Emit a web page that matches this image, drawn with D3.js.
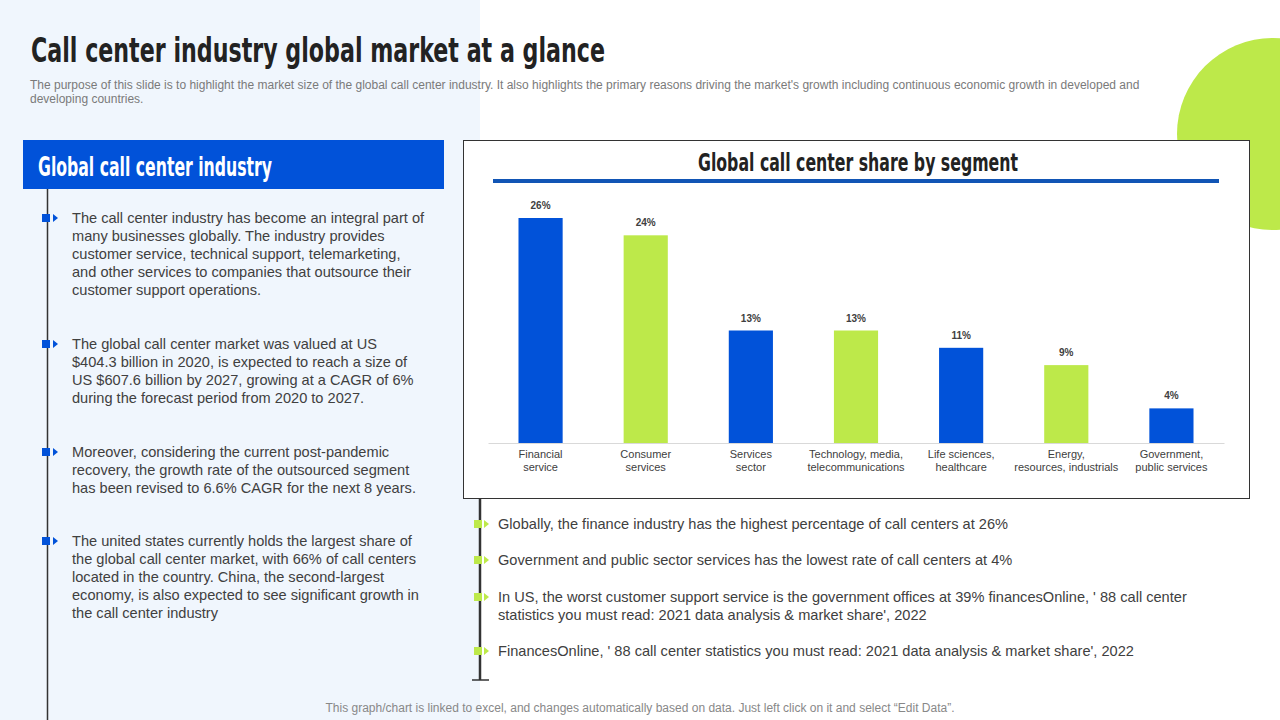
<!DOCTYPE html>
<html>
<head>
<meta charset="utf-8">
<script src="https://cdn.jsdelivr.net/npm/d3@7"></script>
<style>
  body { margin: 0; background: #fff; }
  svg { display: block; }
</style>
</head>
<body>
<div id="slide"></div>
<script>
// chart data
const segments = [
  ["Financial", "service"],
  ["Consumer", "services"],
  ["Services", "sector"],
  ["Technology, media,", "telecommunications"],
  ["Life sciences,", "healthcare"],
  ["Energy,", "resources, industrials"],
  ["Government,", "public services"]
];
const shares = [26, 24, 13, 13, 11, 9, 4];

// slide texts
const titleText = "Call center industry global market at a glance";
const subtitleLines = [
  "The purpose of this slide is to highlight the market size of the global call center industry. It also highlights the primary reasons driving the market's growth including continuous economic growth in developed and",
  "developing countries."
];
const leftHeader = "Global call center industry";
const leftParas = [
  ["The call center industry has become an integral part of", "many businesses globally.  The industry provides", "customer service, technical support, telemarketing,", "and other services to companies that outsource their", "customer support operations."],
  ["The global  call center market was valued  at US", "$404.3 billion  in 2020,  is expected to reach a size of", "US $607.6 billion  by 2027, growing at a CAGR of 6%", "during the forecast period from 2020 to 2027."],
  ["Moreover,  considering the current post-pandemic", "recovery, the growth rate of the outsourced segment", "has been revised to 6.6% CAGR for the next 8 years."],
  ["The united states currently holds the largest share of", "the global  call center market, with 66% of call centers", "located in the country. China, the second-largest", "economy, is also expected to see significant growth in", "the call center industry"]
];
const chartTitle = "Global call center share by segment";
const notes = [
  ["Globally,  the finance industry has the highest percentage of call centers at 26%"],
  ["Government and public sector services has the lowest rate of call centers at 4%"],
  ["In US, the worst customer support service is the government offices at 39% financesOnline, ' 88 call center", "statistics you must read: 2021 data analysis & market share', 2022"],
  ["FinancesOnline, ' 88 call center statistics you must read: 2021 data analysis & market share', 2022"]
];
const footer = "This graph/chart is linked to excel,  and changes automatically based on data. Just left click on it and select \u201CEdit Data\u201D.";

const BLUE = "#0152d9", GREEN = "#bde94a", TEXT = "#404040";
const COND = "'DejaVu Sans Condensed', 'DejaVu Sans', sans-serif";
const BODY = "'Liberation Sans', Arial, sans-serif";

const svg = d3.select("#slide").append("svg")
  .attr("width", 1280).attr("height", 720);

// backgrounds
svg.append("rect").attr("width", 1280).attr("height", 720).attr("fill", "#fff");
svg.append("rect").attr("width", 480).attr("height", 720).attr("fill", "#f0f6fd");
svg.append("circle").attr("cx", 1273).attr("cy", 134).attr("r", 96).attr("fill", GREEN);

// fit condensed headline text to a width
function fitText(sel, w) {
  sel.attr("textLength", w).attr("lengthAdjust", "spacingAndGlyphs");
}

// title
svg.append("text").attr("x", 31).attr("y", 62)
  .attr("font-family", COND).attr("font-weight", "bold").attr("font-size", 34)
  .attr("fill", "#222").text(titleText).call(fitText, 574);

svg.selectAll(".sub").data(subtitleLines).enter().append("text")
  .attr("x", 30).attr("y", (d, i) => 89 + i * 14)
  .attr("font-family", BODY).attr("font-size", 12).attr("fill", "#7a7a7a")
  .text(d => d);

// left panel
svg.append("rect").attr("x", 23).attr("y", 140).attr("width", 421).attr("height", 49).attr("fill", BLUE);
svg.append("text").attr("x", 38).attr("y", 176)
  .attr("font-family", COND).attr("font-weight", "bold").attr("font-size", 26)
  .attr("fill", "#fff").text(leftHeader).call(fitText, 234);

svg.append("line").attr("x1", 47.5).attr("x2", 47.5).attr("y1", 189).attr("y2", 720)
  .attr("stroke", "#333").attr("stroke-width", 1.5);

const paraTops = [218, 344, 452, 541];
leftParas.forEach((lines, p) => {
  const y0 = paraTops[p];
  svg.append("rect").attr("x", 42).attr("y", y0 - 4).attr("width", 8).attr("height", 8).attr("fill", BLUE);
  svg.append("path").attr("d", `M53,${y0 - 4}L58,${y0}L53,${y0 + 4}Z`).attr("fill", BLUE);
  svg.selectAll(null).data(lines).enter().append("text")
    .attr("x", 72).attr("y", (d, i) => y0 + 5 + i * 18)
    .attr("font-family", BODY).attr("font-size", 14.6).attr("fill", TEXT)
    .text(d => d);
});

// chart box
svg.append("rect").attr("x", 463.5).attr("y", 140.5).attr("width", 786).attr("height", 358)
  .attr("fill", "#fff").attr("stroke", "#333").attr("stroke-width", 1);
svg.append("text").attr("x", 858).attr("y", 171).attr("text-anchor", "middle")
  .attr("font-family", COND).attr("font-weight", "bold").attr("font-size", 24)
  .attr("fill", "#222").text(chartTitle).call(fitText, 320);
svg.append("rect").attr("x", 493).attr("y", 179).attr("width", 726).attr("height", 4).attr("fill", "#1155b5");

const x = d3.scaleBand().domain(d3.range(segments.length)).range([488, 1224]).paddingInner(0.58).paddingOuter(0.29);
const y = d3.scaleLinear().domain([0, 26]).range([443, 218]);

const plot = svg.append("g");
plot.selectAll(".bar").data(shares).enter().append("rect")
  .attr("x", (d, i) => x(i)).attr("width", x.bandwidth())
  .attr("y", d => y(d)).attr("height", d => y(0) - y(d))
  .attr("fill", (d, i) => i % 2 === 0 ? BLUE : GREEN);

plot.selectAll(".lbl").data(shares).enter().append("text")
  .attr("x", (d, i) => x(i) + x.bandwidth() / 2).attr("y", d => y(d) - 9)
  .attr("text-anchor", "middle").attr("font-family", BODY).attr("font-weight", "bold")
  .attr("font-size", 10).attr("fill", TEXT).text(d => d + "%");

const xAxis = plot.append("g").attr("transform", "translate(0,443)")
  .call(d3.axisBottom(x).tickSize(0).tickFormat(""));
xAxis.select(".domain").attr("stroke", "#d9d9d9");

segments.forEach((lines, i) => {
  plot.selectAll(null).data(lines).enter().append("text")
    .attr("x", x(i) + x.bandwidth() / 2).attr("y", (d, k) => 458 + k * 13)
    .attr("text-anchor", "middle").attr("font-family", BODY).attr("font-size", 11)
    .attr("fill", TEXT).text(d => d);
});

// notes under chart
svg.append("line").attr("x1", 480).attr("x2", 480).attr("y1", 498).attr("y2", 680)
  .attr("stroke", "#333").attr("stroke-width", 2.5);
svg.append("line").attr("x1", 472).attr("x2", 489).attr("y1", 680).attr("y2", 680)
  .attr("stroke", "#333").attr("stroke-width", 1.5);

const noteTops = [524, 560, 597, 651];
notes.forEach((lines, n) => {
  const y0 = noteTops[n];
  svg.append("rect").attr("x", 474).attr("y", y0 - 4).attr("width", 8).attr("height", 8).attr("fill", GREEN);
  svg.append("path").attr("d", `M484,${y0 - 4}L489,${y0}L484,${y0 + 4}Z`).attr("fill", GREEN);
  svg.selectAll(null).data(lines).enter().append("text")
    .attr("x", 498).attr("y", (d, i) => y0 + 5 + i * 18)
    .attr("font-family", BODY).attr("font-size", 14.6).attr("fill", TEXT)
    .text(d => d);
});

svg.append("text").attr("x", 640).attr("y", 712).attr("text-anchor", "middle")
  .attr("font-family", BODY).attr("font-size", 12).attr("fill", "#888").text(footer);
</script>
</body>
</html>
